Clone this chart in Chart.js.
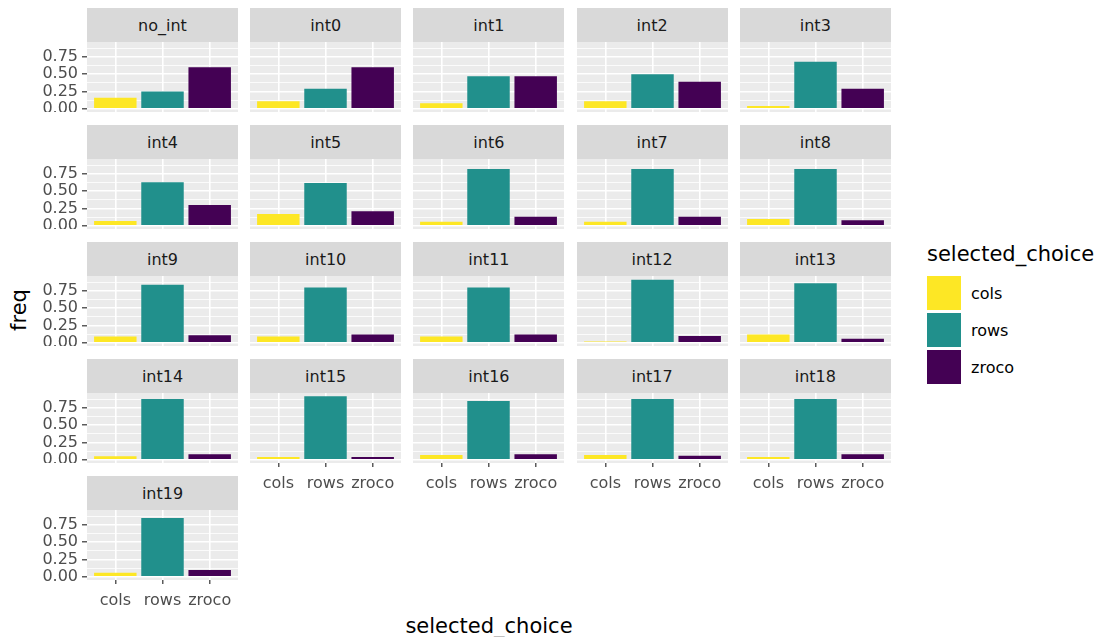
<!DOCTYPE html>
<html>
<head>
<meta charset="utf-8">
<script src="https://cdn.jsdelivr.net/npm/chart.js@4.4.1/dist/chart.umd.min.js"></script>
<style>
  body { margin: 0; background: #fff; }
  #page { position: relative; width: 1098px; height: 637px; overflow: hidden; font-family: 'DejaVu Sans', sans-serif; }
  .strip { position: absolute; background: #D9D9D9; color: #1A1A1A; font-size: 16px; display: flex; align-items: center; justify-content: center; }
  .box { position: absolute; }
  .title { position: absolute; color: #000; font-size: 21px; white-space: nowrap; }
  .key { position: absolute; width: 34px; height: 34px; }
  .keytext { position: absolute; font-size: 16px; color: #000; }
</style>
</head>
<body>
<div id="page"></div>
<script>
// facet names, in the order ggplot wraps them
const panels = ['no_int', 'int0', 'int1', 'int2', 'int3', 'int4', 'int5', 'int6', 'int7', 'int8', 'int9',
  'int10', 'int11', 'int12', 'int13', 'int14', 'int15', 'int16', 'int17', 'int18', 'int19'];
const categories = ['cols', 'rows', 'zroco'];

// freq per facet
const colsFreq  = [0.16, 0.11, 0.08, 0.11, 0.04, 0.07, 0.17, 0.06, 0.06, 0.10, 0.09, 0.09, 0.09, 0.02, 0.12, 0.05, 0.04, 0.07, 0.07, 0.04, 0.06];
const rowsFreq  = [0.25, 0.29, 0.47, 0.50, 0.68, 0.63, 0.62, 0.82, 0.82, 0.82, 0.84, 0.80, 0.80, 0.91, 0.86, 0.88, 0.92, 0.85, 0.88, 0.88, 0.85];
const zrocoFreq = [0.60, 0.60, 0.47, 0.39, 0.29, 0.30, 0.21, 0.13, 0.13, 0.08, 0.11, 0.12, 0.12, 0.10, 0.06, 0.08, 0.04, 0.08, 0.06, 0.08, 0.10];

const yTicks = [0, 0.25, 0.5, 0.75];
const yTickLabels = ['0.00', '0.25', '0.50', '0.75'];
const yMinor = [0.125, 0.375, 0.625, 0.875];

const FILL = ['#FDE725', '#21908C', '#440154'];
const FONT = "'DejaVu Sans', sans-serif";

// layout of the facet grid (px)
const NCOL = 5;
const PLOT_X0 = 87, PLOT_DX = 163.2, PLOT_W = 151;
const PLOT_Y0 = 42, PLOT_DY = 117.1, PLOT_H = 70, STRIP_H = 34;
const Y_AXIS_W = 50, X_AXIS_H = 30;

const series = [colsFreq, rowsFreq, zrocoFreq];
const maxVal = Math.max(...series.flat());
const yMin = -0.05 * maxVal;
const yMax = 1.05 * maxVal;
const yGrid = [...yTicks, ...yMinor].sort((a, b) => a - b);
const isMajor = (v) => yTicks.includes(v);

const panelBg = {
  id: 'panelBg',
  beforeDraw(chart) {
    const { ctx, chartArea: a } = chart;
    ctx.save();
    ctx.fillStyle = '#EBEBEB';
    ctx.fillRect(a.left, a.top, a.width, a.height);
    ctx.restore();
  },
};

const page = document.getElementById('page');

function addDiv(cls, style, text) {
  const d = document.createElement('div');
  d.className = cls;
  Object.assign(d.style, style);
  if (text != null) d.textContent = text;
  page.appendChild(d);
  return d;
}

panels.forEach((name, i) => {
  const col = i % NCOL;
  const row = Math.floor(i / NCOL);
  const left = PLOT_X0 + col * PLOT_DX;
  const top = PLOT_Y0 + row * PLOT_DY;
  const showY = col === 0;
  const showX = i + NCOL >= panels.length;

  addDiv('strip', { left: left + 'px', top: top - STRIP_H + 'px', width: PLOT_W + 'px', height: STRIP_H + 'px' }, name);

  const axW = showY ? Y_AXIS_W : 0;
  const axH = showX ? X_AXIS_H : 0;
  const box = addDiv('box', { left: left - axW + 'px', top: top + 'px', width: PLOT_W + axW + 'px', height: PLOT_H + axH + 'px' });
  const canvas = document.createElement('canvas');
  box.appendChild(canvas);

  new Chart(canvas, {
    type: 'bar',
    data: {
      datasets: [{
        label: name,
        data: categories.map((c, k) => ({ x: k + 1, y: series[k][i] })),
        backgroundColor: FILL,
        borderWidth: 0,
        barPercentage: 1,
        categoryPercentage: 0.9,
      }],
    },
    options: {
      responsive: true,
      maintainAspectRatio: false,
      animation: false,
      layout: { padding: 0 },
      plugins: { legend: { display: false }, tooltip: { enabled: false } },
      scales: {
        x: {
          type: 'linear',
          min: 0.4,
          max: 3.6,
          offset: false,
          afterBuildTicks: (s) => { s.ticks = categories.map((c, k) => ({ value: k + 1 })); },
          afterFit: (s) => { s.height = axH; s.paddingLeft = 0; s.paddingRight = 0; },
          border: { display: false },
          grid: { offset: false, color: '#FFFFFF', lineWidth: 1.6, drawTicks: showX, tickLength: 4, tickColor: '#333333', tickWidth: 1.2 },
          ticks: {
            display: showX, padding: 7, color: '#4D4D4D', autoSkip: false, maxRotation: 0,
            font: { family: FONT, size: 16 },
            callback: (v) => categories[v - 1],
          },
        },
        y: {
          min: yMin,
          max: yMax,
          afterBuildTicks: (s) => { s.ticks = yGrid.map((v) => ({ value: v })); },
          afterFit: (s) => { s.width = axW; s.paddingTop = 0; s.paddingBottom = 0; },
          border: { display: false },
          grid: {
            color: '#FFFFFF',
            lineWidth: (c) => (isMajor(c.tick.value) ? 1.6 : 0.8),
            drawTicks: showY,
            tickLength: 5,
            tickWidth: 1.2,
            tickColor: (c) => (isMajor(c.tick.value) ? '#333333' : 'rgba(0,0,0,0)'),
          },
          ticks: {
            display: showY, padding: 4, color: '#4D4D4D', autoSkip: false,
            font: { family: FONT, size: 16, lineHeight: 1 },
            callback: (v) => { const k = yTicks.indexOf(v); return k >= 0 ? yTickLabels[k] : ''; },
          },
        },
      },
    },
    plugins: [panelBg],
  });
});

// axis titles
addDiv('title', { left: '489px', top: '626px', transform: 'translate(-50%, -50%)' }, 'selected_choice');
addDiv('title', { left: '19px', top: '310px', transform: 'translate(-50%, -50%) rotate(-90deg)' }, 'freq');

// legend
addDiv('title', { left: '927px', top: '242px' }, 'selected_choice');
categories.forEach((c, k) => {
  const y = 276 + k * 36.8;
  addDiv('key', { left: '927px', top: y + 'px', background: FILL[k] });
  addDiv('keytext', { left: '971px', top: y + 17 + 'px', transform: 'translateY(-50%)' }, c);
});
</script>
</body>
</html>
